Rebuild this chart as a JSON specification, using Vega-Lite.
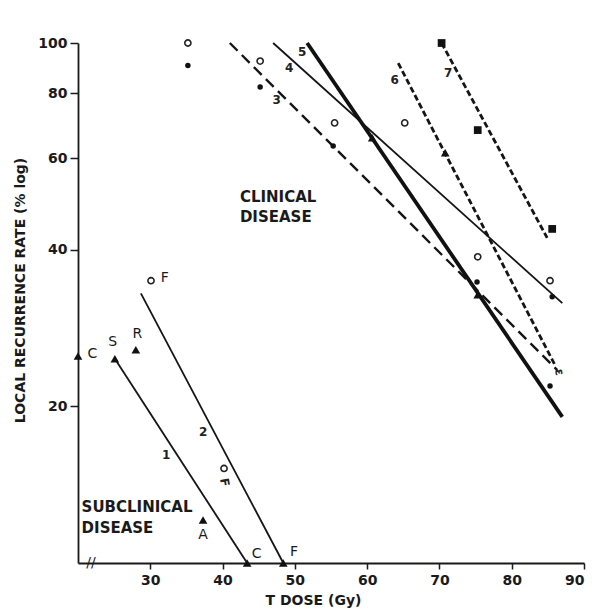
{
  "$schema": "https://vega.github.io/schema/vega-lite/v6.json",
  "width": 506,
  "height": 520,
  "autosize": {"type": "none"},
  "padding": {"left": 78, "top": 43, "right": 13, "bottom": 49},
  "background": "white",
  "config": {
    "view": {"stroke": null},
    "font": "DejaVu Sans"
  },
  "datasets": {
    "lines": [
      {"line": "1", "dose": 25.1, "rate": 24.7},
      {"line": "1", "dose": 43.4, "rate": 10},
      {"line": "2", "dose": 28.7, "rate": 33.0},
      {"line": "2", "dose": 48.4, "rate": 10},
      {"line": "3", "dose": 41.0, "rate": 100},
      {"line": "3", "dose": 86.3, "rate": 23.5},
      {"line": "4", "dose": 47.0, "rate": 100},
      {"line": "4", "dose": 87.0, "rate": 31.6},
      {"line": "5", "dose": 51.7, "rate": 100},
      {"line": "5", "dose": 87.0, "rate": 19.1},
      {"line": "6", "dose": 64.3, "rate": 91.5},
      {"line": "6", "dose": 86.0, "rate": 24.0},
      {"line": "7", "dose": 70.3, "rate": 100},
      {"line": "7", "dose": 84.9, "rate": 42.2}
    ],
    "points": [
      {"marker": "triangle", "dose": 20.0, "rate": 25.0},
      {"marker": "triangle", "dose": 25.1, "rate": 24.7},
      {"marker": "triangle", "dose": 28.0, "rate": 25.7},
      {"marker": "open", "dose": 30.1, "rate": 34.9},
      {"marker": "open", "dose": 40.2, "rate": 15.2},
      {"marker": "triangle", "dose": 37.3, "rate": 12.1},
      {"marker": "triangle", "dose": 43.4, "rate": 10.0},
      {"marker": "triangle", "dose": 48.4, "rate": 10.0},
      {"marker": "open", "dose": 35.2, "rate": 100},
      {"marker": "dot", "dose": 35.2, "rate": 90.5},
      {"marker": "open", "dose": 45.2, "rate": 92.3},
      {"marker": "dot", "dose": 45.2, "rate": 82.3},
      {"marker": "open", "dose": 55.5, "rate": 70.2},
      {"marker": "dot", "dose": 55.3, "rate": 63.4},
      {"marker": "triangle", "dose": 60.7, "rate": 65.7},
      {"marker": "open", "dose": 65.2, "rate": 70.2},
      {"marker": "triangle", "dose": 70.8, "rate": 61.5},
      {"marker": "square", "dose": 70.3, "rate": 100},
      {"marker": "square", "dose": 75.3, "rate": 68.0},
      {"marker": "square", "dose": 85.6, "rate": 43.9},
      {"marker": "open", "dose": 75.3, "rate": 38.8},
      {"marker": "dot", "dose": 75.2, "rate": 34.7},
      {"marker": "triangle", "dose": 75.3, "rate": 32.8},
      {"marker": "open", "dose": 85.3, "rate": 34.9},
      {"marker": "dot", "dose": 85.6, "rate": 32.5},
      {"marker": "dot", "dose": 85.3, "rate": 21.9}
    ],
    "labels": [
      {"kind": "number", "text": "1", "dose": 32.2, "rate": 16.1},
      {"kind": "number", "text": "2", "dose": 37.3, "rate": 17.9},
      {"kind": "number", "text": "3", "dose": 47.5, "rate": 77.7},
      {"kind": "number", "text": "4", "dose": 49.2, "rate": 89.6},
      {"kind": "number", "text": "5", "dose": 51.0, "rate": 96.1},
      {"kind": "number", "text": "6", "dose": 63.8, "rate": 84.8},
      {"kind": "number", "text": "7", "dose": 71.2, "rate": 87.7},
      {"kind": "letter", "text": "C", "dose": 22.0, "rate": 25.2},
      {"kind": "letter", "text": "S", "dose": 24.8, "rate": 26.6},
      {"kind": "letter", "text": "R", "dose": 28.2, "rate": 27.6},
      {"kind": "letter", "text": "F", "dose": 32.0, "rate": 35.3},
      {"kind": "letter", "text": "A", "dose": 37.3, "rate": 11.3},
      {"kind": "letter", "text": "C", "dose": 44.7, "rate": 10.4},
      {"kind": "letter", "text": "F", "dose": 49.9, "rate": 10.5},
      {"kind": "letter", "text": "//", "dose": 21.8, "rate": 10.0},
      {"kind": "rotated", "text": "F", "dose": 40.3, "rate": 14.3},
      {"kind": "rotated", "text": "ε", "dose": 86.6, "rate": 23.3}
    ],
    "notes": [
      {"text": "CLINICAL", "dose": 42.4, "rate": 50.6},
      {"text": "DISEASE", "dose": 42.4, "rate": 46.2},
      {"text": "SUBCLINICAL", "dose": 20.5, "rate": 12.8},
      {"text": "DISEASE", "dose": 20.5, "rate": 11.7}
    ]
  },
  "layer": [
    {
      "data": {"name": "lines"},
      "transform": [{"filter": "datum.line === '1' || datum.line === '2' || datum.line === '4'"}],
      "mark": {"type": "line", "color": "#151515", "strokeWidth": 1.8},
      "encoding": {
        "x": {"field": "dose", "type": "quantitative", "scale": {"domain": [20, 90], "nice": false, "zero": false},
          "axis": {
            "values": [30, 40, 50, 60, 70, 80, 90],
            "grid": false,
            "domainColor": "#1a1a1a", "domainWidth": 1.8,
            "tickColor": "#1a1a1a", "tickWidth": 1.5, "tickSize": 6,
            "labelFont": "DejaVu Sans", "labelFontWeight": "bold", "labelFontSize": 14, "labelColor": "#1a1a1a", "labelPadding": 4,
            "title": "T DOSE (Gy)",
            "titleFont": "DejaVu Sans", "titleFontWeight": "bold", "titleFontSize": 14, "titleColor": "#1a1a1a",
            "titleX": 235, "titleY": 37, "titleBaseline": "middle", "titleAlign": "center"
          }
        },
        "y": {"field": "rate", "type": "quantitative", "scale": {"type": "log", "domain": [10, 100], "nice": false},
          "axis": {
            "values": [20, 40, 60, 80, 100],
            "format": "d",
            "grid": false,
            "domainColor": "#1a1a1a", "domainWidth": 1.8,
            "tickColor": "#1a1a1a", "tickWidth": 1.5, "tickSize": 8,
            "labelFont": "DejaVu Sans", "labelFontWeight": "bold", "labelFontSize": 14, "labelColor": "#1a1a1a", "labelPadding": 3,
            "title": "LOCAL RECURRENCE RATE (% log)",
            "titleFont": "DejaVu Sans", "titleFontWeight": "bold", "titleFontSize": 14, "titleColor": "#1a1a1a",
            "titleX": -58, "titleY": 247, "titleAngle": -90, "titleBaseline": "middle", "titleAlign": "center"
          }
        },
        "detail": {"field": "line", "type": "nominal"}
      }
    },
    {
      "data": {"name": "lines"},
      "transform": [{"filter": "datum.line === '5'"}],
      "mark": {"type": "line", "color": "#111", "strokeWidth": 3.8},
      "encoding": {
        "x": {"field": "dose", "type": "quantitative"},
        "y": {"field": "rate", "type": "quantitative"}
      }
    },
    {
      "data": {"name": "lines"},
      "transform": [{"filter": "datum.line === '3'"}],
      "mark": {"type": "line", "color": "#151515", "strokeWidth": 2.4, "strokeDash": [11, 6]},
      "encoding": {
        "x": {"field": "dose", "type": "quantitative"},
        "y": {"field": "rate", "type": "quantitative"}
      }
    },
    {
      "data": {"name": "lines"},
      "transform": [{"filter": "datum.line === '6' || datum.line === '7'"}],
      "mark": {"type": "line", "color": "#151515", "strokeWidth": 2.8, "strokeDash": [6, 3]},
      "encoding": {
        "x": {"field": "dose", "type": "quantitative"},
        "y": {"field": "rate", "type": "quantitative"},
        "detail": {"field": "line", "type": "nominal"}
      }
    },
    {
      "data": {"name": "points"},
      "transform": [{"filter": "datum.marker !== 'open'"}],
      "mark": {"type": "point", "filled": true, "color": "#111", "opacity": 1},
      "encoding": {
        "x": {"field": "dose", "type": "quantitative"},
        "y": {"field": "rate", "type": "quantitative"},
        "shape": {"field": "marker", "type": "nominal", "legend": null,
          "scale": {"domain": ["dot", "triangle", "square"], "range": ["circle", "triangle-up", "square"]}},
        "size": {"field": "marker", "type": "nominal", "legend": null,
          "scale": {"type": "ordinal", "domain": ["dot", "triangle", "square"], "range": [30, 75, 60]}}
      }
    },
    {
      "data": {"name": "points"},
      "transform": [{"filter": "datum.marker === 'open'"}],
      "mark": {"type": "point", "filled": false, "color": "#222", "strokeWidth": 1.6, "size": 38, "shape": "circle", "opacity": 1},
      "encoding": {
        "x": {"field": "dose", "type": "quantitative"},
        "y": {"field": "rate", "type": "quantitative"}
      }
    },
    {
      "data": {"name": "labels"},
      "transform": [{"filter": "datum.kind === 'number'"}],
      "mark": {"type": "text", "font": "DejaVu Sans", "fontSize": 12, "fontWeight": "bold", "color": "#222", "align": "center", "baseline": "middle"},
      "encoding": {
        "x": {"field": "dose", "type": "quantitative"},
        "y": {"field": "rate", "type": "quantitative"},
        "text": {"field": "text"}
      }
    },
    {
      "data": {"name": "labels"},
      "transform": [{"filter": "datum.kind === 'letter'"}],
      "mark": {"type": "text", "font": "DejaVu Sans", "fontSize": 14, "color": "#1a1a1a", "align": "center", "baseline": "middle"},
      "encoding": {
        "x": {"field": "dose", "type": "quantitative"},
        "y": {"field": "rate", "type": "quantitative"},
        "text": {"field": "text"}
      }
    },
    {
      "data": {"name": "labels"},
      "transform": [{"filter": "datum.kind === 'rotated'"}],
      "mark": {"type": "text", "font": "DejaVu Sans", "fontSize": 12, "fontWeight": "bold", "color": "#222", "align": "center", "baseline": "middle", "angle": 80},
      "encoding": {
        "x": {"field": "dose", "type": "quantitative"},
        "y": {"field": "rate", "type": "quantitative"},
        "text": {"field": "text"}
      }
    },
    {
      "data": {"name": "notes"},
      "mark": {"type": "text", "font": "DejaVu Sans", "fontSize": 15, "fontWeight": "bold", "color": "#1a1a1a", "align": "left", "baseline": "middle"},
      "encoding": {
        "x": {"field": "dose", "type": "quantitative"},
        "y": {"field": "rate", "type": "quantitative"},
        "text": {"field": "text"}
      }
    }
  ]
}
